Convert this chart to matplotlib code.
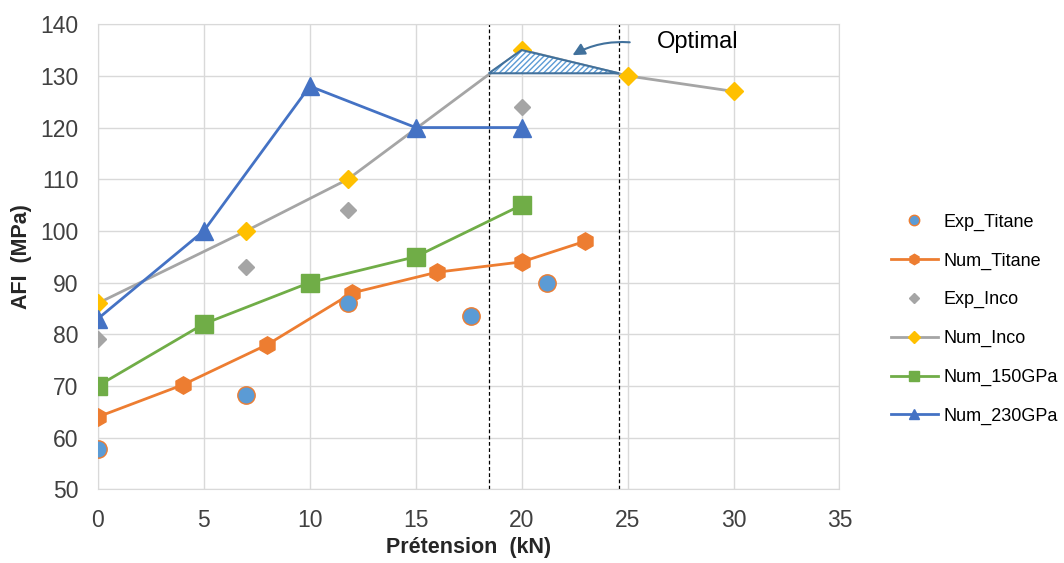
import matplotlib.pyplot as plt
from matplotlib.patches import Polygon

plt.rcParams['font.family'] = ['Liberation Sans', 'DejaVu Sans']

# donnees
x_exp_ti = [0, 7, 11.8, 17.6, 21.2]
y_exp_ti = [57.8, 68.3, 86, 83.5, 90]
x_num_ti = [0, 4, 8, 12, 16, 20, 23]
y_num_ti = [64, 70.2, 78, 88, 92, 94, 98]
x_exp_inco = [0, 7, 11.8, 20]
y_exp_inco = [79, 93, 104, 124]
x_num_inco = [0, 7, 11.8, 20, 25, 30]
y_num_inco = [86, 100, 110, 135, 130, 127]
x_150 = [0, 5, 10, 15, 20]
y_150 = [70, 82, 90, 95, 105]
x_230 = [0, 5, 10, 15, 20]
y_230 = [83, 100, 128, 120, 120]

# zone optimale
opt_x = [18.45, 20, 24.6]
opt_y = [130.5, 135, 130.5]
vlines_x = [18.45, 24.6]

fig = plt.figure(figsize=(10.64, 5.63), dpi=100)
ax = fig.add_axes([0.092, 0.131, 0.697, 0.826])

ax.plot(x_exp_ti, y_exp_ti, 'o', color='#5B9BD5', mec='#ED7D31', mew=1, ms=12.5,
        ls='none', label='Exp_Titane', zorder=4)
ax.plot(x_num_ti, y_num_ti, '-h', color='#ED7D31', lw=2, ms=12.5, label='Num_Titane', zorder=3)
ax.plot(x_exp_inco, y_exp_inco, 'D', color='#A5A5A5', ms=8.5, ls='none', label='Exp_Inco', zorder=3)
ax.plot(x_num_inco, y_num_inco, '-D', color='#A5A5A5', mfc='#FFC000', mec='#FFC000', lw=2,
        ms=9.5, label='Num_Inco', zorder=3)
ax.plot(x_150, y_150, '-s', color='#70AD47', lw=2, ms=12.5, label='Num_150GPa', zorder=3)
ax.plot(x_230, y_230, '-^', color='#4472C4', lw=2, ms=12.5, label='Num_230GPa', zorder=3)

pts = list(zip(opt_x, opt_y))
ax.add_patch(Polygon(pts, closed=True, facecolor='white', edgecolor='#5B9BD5', lw=0,
                     hatch='//////', zorder=5))
ax.add_patch(Polygon(pts, closed=True, fill=False, edgecolor='#41719C', lw=1.5, zorder=6))

for xv in vlines_x:
    ax.axvline(xv, color='black', ls=(0, (3, 2)), lw=0.9, zorder=2)

ax.annotate('', xy=(22.4, 134.0), xytext=(25.1, 136.5),
            arrowprops=dict(arrowstyle='-|>', color='#41719C', lw=1.5, mutation_scale=18,
                            shrinkA=0, shrinkB=0, connectionstyle='arc3,rad=0.15'))
ax.text(26.4, 136.6, 'Optimal', fontsize=17, va='center', ha='left')

ax.set_xlim(0, 35)
ax.set_ylim(50, 140)
ax.set_xticks(range(0, 36, 5))
ax.set_yticks(range(50, 141, 10))
ax.grid(True, color='#D9D9D9', lw=1)
ax.set_axisbelow(True)
for s in ax.spines.values():
    s.set_color('#D9D9D9')
ax.tick_params(length=0, labelsize=16.5, colors='#404040')
ax.tick_params(axis='y', pad=14)
ax.tick_params(axis='x', pad=14)
ax.set_xlabel('Prétension  (kN)', fontsize=15.5, fontweight='bold', color='#262626', labelpad=4)
ax.set_ylabel('AFI  (MPa)', fontsize=15.5, fontweight='bold', color='#262626', labelpad=6)

fig.legend(loc='center left', bbox_to_anchor=(0.822, 0.433), frameon=False, fontsize=13,
           labelspacing=1.2, handlelength=2.6, handletextpad=0.3, markerscale=0.6)

fig.savefig('out.png', dpi=100)
